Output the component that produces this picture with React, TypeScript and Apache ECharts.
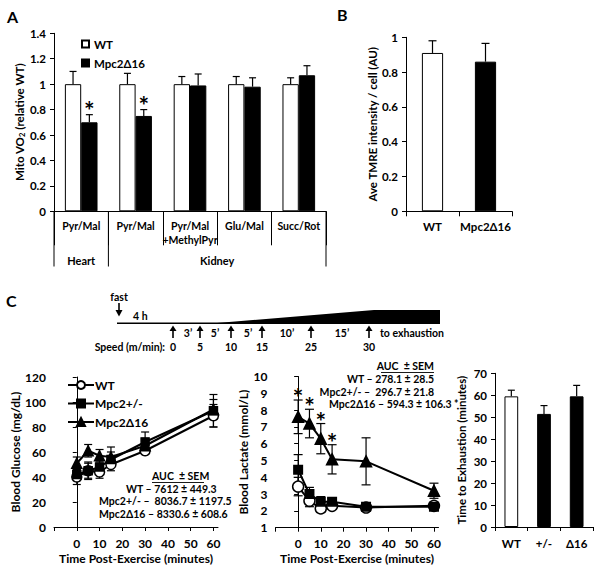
import React, { useEffect, useRef } from 'react';
import * as echarts from 'echarts';

const FONT = 'Lato, "Open Sans", sans-serif';

// ---------- Panel A ----------
const aCategories = ['Pyr/Mal', 'Pyr/Mal', 'Pyr/Mal\n+MethylPyr', 'Glu/Mal', 'Succ/Rot'];
const aTissues = ['Heart', 'Kidney'];
const aWT = [1, 1, 1, 1, 1];
const aWTErr = [0.1, 0.085, 0.06, 0.06, 0.05];
const aKO = [0.7, 0.75, 0.99, 0.98, 1.07];
const aKOErr = [0.06, 0.05, 0.09, 0.07, 0.075];
const aKOSig = [true, true, false, false, false];

// ---------- Panel B ----------
const bCategories = ['WT', 'Mpc2Δ16'];
const bValues = [0.91, 0.86];
const bErr = [0.07, 0.105];

// ---------- Panel C: protocol ----------
const speeds = ['0', '5', '10', '15', '25', '30'];
const durations = ['3’', '5’', '5’', '10’', '15’'];

// ---------- Panel C: time courses ----------
const timePoints = [0, 5, 10, 15, 30, 60];
const timeTicks = [-10, 0, 10, 20, 30, 40, 50, 60];
const timeLabels = [0, 10, 20, 30, 40, 50, 60];

const glucoseWT = [40, 45, 44, 50, 61, 89];
const glucoseWTErr = [6, 6, 5, 5, 3, 9];
const glucoseHet = [42, 45, 48, 54, 68, 93];
const glucoseHetErr = [5, 7, 5, 6, 8, 13];
const glucoseKO = [51, 61, 57, 56, 65, 94];
const glucoseKOErr = [5, 5, 5, 8, 6, 8];
const glucoseAUC = ['AUC  ± SEM', 'WT – 7612 ± 449.3', 'Mpc2+/- –  8036.7 ± 1197.5', 'Mpc2Δ16 – 8330.6 ± 608.6'];

const lactateWT = [3.45, 2.6, 2.15, 2.3, 2.2, 2.3];
const lactateWTErr = [0.55, 0.35, 0.2, 0.2, 0.1, 0.1];
const lactateHet = [4.45, 3.0, 2.55, 2.55, 2.25, 2.25];
const lactateHetErr = [0.9, 0.4, 0.3, 0.2, 0.15, 0.15];
const lactateKO = [7.6, 7.2, 6.3, 5.07, 4.95, 3.2];
const lactateKOErr = [1.0, 0.85, 0.9, 0.87, 1.4, 0.45];
const lactateKOSig = [true, true, true, true, false, false];
const lactateAUC = ['AUC  ± SEM', 'WT – 278.1 ± 28.5', 'Mpc2+/- –  296.7 ± 21.8', 'Mpc2Δ16 – 594.3 ± 106.3 *'];

// ---------- Panel C: exhaustion ----------
const exCategories = ['WT', '+/-', 'Δ16'];
const exValues = [59.5, 51.5, 59.5];
const exErr = [2.8, 3.8, 5];

// ---------- layout ----------
const A_LEFT = 54;
const A_TOP = 33.3;
const A_W = 272;
const A_H = 178;

const bold = (size: number) => ({ fontFamily: FONT, fontWeight: 'bold' as const, fontSize: size, color: '#000' });
const axisLine = { show: true, lineStyle: { color: '#000', width: 1 } };
const tick = (len = 4) => ({ show: true, length: len, lineStyle: { color: '#000', width: 1 } });
const starStyle = { text: '*', fontFamily: FONT, fontWeight: 'bold', fontSize: 25, fill: '#000', align: 'center', verticalAlign: 'middle' };

function barErr(xi: number, yi: number, vals: number[], errs: number[], offset: number, sig: boolean[] | null, cap: number, starGap: number) {
  return {
    type: 'custom',
    xAxisIndex: xi,
    yAxisIndex: yi,
    z: 5,
    silent: true,
    data: vals.map((v, i) => [i, v, errs[i], sig && sig[i] ? 1 : 0]),
    renderItem: (_p: any, api: any) => {
      const i = api.value(0);
      const v = api.value(1);
      const e = api.value(2);
      const s = api.value(3);
      const bw = api.size([1, 0])[0];
      const p0 = api.coord([i, v]);
      const p1 = api.coord([i, v + e]);
      const x = p0[0] + offset * bw;
      const children: any[] = [
        { type: 'line', shape: { x1: x, y1: p0[1], x2: x, y2: p1[1] }, style: { stroke: '#000', lineWidth: 1.2 } },
        { type: 'line', shape: { x1: x - cap, y1: p1[1], x2: x + cap, y2: p1[1] }, style: { stroke: '#000', lineWidth: 1.2 } },
      ];
      if (s) {
        children.push({ type: 'text', x, y: p1[1] - starGap, style: starStyle });
      }
      return { type: 'group', children };
    },
  };
}

function lineErr(xi: number, yi: number, xs: number[], vals: number[], errs: number[], sig: boolean[] | null, cap: number, starGap: number) {
  return {
    type: 'custom',
    xAxisIndex: xi,
    yAxisIndex: yi,
    z: 1,
    silent: true,
    data: xs.map((t, i) => [t, vals[i], errs[i], sig && sig[i] ? 1 : 0]),
    renderItem: (_p: any, api: any) => {
      const t = api.value(0);
      const v = api.value(1);
      const e = api.value(2);
      const s = api.value(3);
      const hi = api.coord([t, v + e]);
      const lo = api.coord([t, v - e]);
      const x = hi[0];
      const children: any[] = [
        { type: 'line', shape: { x1: x, y1: lo[1], x2: x, y2: hi[1] }, style: { stroke: '#000', lineWidth: 1.2 } },
        { type: 'line', shape: { x1: x - cap, y1: hi[1], x2: x + cap, y2: hi[1] }, style: { stroke: '#000', lineWidth: 1.2 } },
        { type: 'line', shape: { x1: x - cap, y1: lo[1], x2: x + cap, y2: lo[1] }, style: { stroke: '#000', lineWidth: 1.2 } },
      ];
      if (s) {
        children.push({ type: 'text', x, y: hi[1] - starGap, style: starStyle });
      }
      return { type: 'group', children };
    },
  };
}

function lineSeries(name: string, xi: number, vals: number[], symbol: string, size: number, fill: string) {
  return {
    type: 'line',
    name,
    xAxisIndex: xi,
    yAxisIndex: xi,
    z: 4,
    data: timePoints.map((t, i) => [t, vals[i]]),
    symbol,
    symbolSize: size,
    showAllSymbol: true,
    lineStyle: { color: '#000', width: 2 },
    itemStyle: { color: fill, borderColor: '#000', borderWidth: 1.5 },
  };
}

function T(str: string, x: number, y: number, size: number, align = 'left', extra: any = {}) {
  return {
    type: 'text',
    x,
    y,
    silent: true,
    style: { text: str, fontFamily: FONT, fontWeight: 'bold', fontSize: size, fill: '#000', align, verticalAlign: 'middle', ...extra },
  };
}

function upArrow(x: number, yTop: number, yBot: number) {
  return [
    { type: 'line', silent: true, shape: { x1: x, y1: yBot, x2: x, y2: yTop + 4 }, style: { stroke: '#000', lineWidth: 1.6 } },
    { type: 'polygon', silent: true, shape: { points: [[x - 3.5, yTop + 5.5], [x + 3.5, yTop + 5.5], [x, yTop]] }, style: { fill: '#000' } },
  ];
}

function buildGraphics() {
  const g: any[] = [];
  g.push(T('A', 7, 16.5, 16));
  g.push(T('B', 337, 14.5, 16));
  g.push(T('C', 6, 300, 16));

  // Panel A tier separators & tissue labels
  const step = A_W / aCategories.length;
  const axisY = A_TOP + A_H;
  [0, 1, aCategories.length].forEach((k) => {
    const x = A_LEFT + k * step;
    g.push({ type: 'line', silent: true, shape: { x1: x, y1: axisY, x2: x, y2: 266.5 }, style: { stroke: '#000', lineWidth: 1 } });
  });
  g.push(T(aTissues[0], A_LEFT + step * 0.5, 260, 11, 'center'));
  g.push(T(aTissues[1], A_LEFT + step * 3, 260, 11, 'center'));

  // protocol timeline
  g.push(T('fast', 119, 297, 10.5, 'center'));
  g.push({ type: 'line', silent: true, shape: { x1: 119, y1: 303, x2: 119, y2: 311 }, style: { stroke: '#000', lineWidth: 1.6 } });
  g.push({ type: 'polygon', silent: true, shape: { points: [[115.5, 310], [122.5, 310], [119, 316.5]] }, style: { fill: '#000' } });
  g.push(T('4 h', 133, 316, 10.5));
  g.push({ type: 'line', silent: true, shape: { x1: 117, y1: 323.3, x2: 374, y2: 323.3 }, style: { stroke: '#000', lineWidth: 1.5 } });
  g.push({ type: 'polygon', silent: true, shape: { points: [[205, 324], [374, 310], [374, 324]] }, style: { fill: '#000' } });
  g.push({ type: 'rect', silent: true, shape: { x: 374, y: 310, width: 66, height: 14 }, style: { fill: '#000' } });
  const arrowX = [173, 200, 231, 262, 311, 369];
  arrowX.forEach((x) => g.push(...upArrow(x, 325.5, 338)));
  const durX = [188, 215, 248, 287, 342];
  durations.forEach((d, i) => g.push(T(d, durX[i], 333, 10.5, 'center')));
  g.push(T('to exhaustion', 380, 333, 10.5));
  g.push(T('Speed (m/min):', 165, 347, 10.5, 'right'));
  speeds.forEach((s, i) => g.push(T(s, arrowX[i], 347, 10.5, 'center')));

  // AUC annotations
  const gX = [152, 126, 99, 99];
  const gY = [476, 488.5, 501, 513.5];
  glucoseAUC.forEach((s, i) => g.push(T(s, gX[i], gY[i], 10.5)));
  g.push({ type: 'line', silent: true, shape: { x1: 152, y1: 482.5, x2: 204, y2: 482.5 }, style: { stroke: '#000', lineWidth: 0.9 } });

  const lY = [366, 379, 391.7, 404.3];
  lactateAUC.forEach((s, i) => g.push(T(s, i === 3 ? 329 : 434, lY[i], 10.5, i === 3 ? 'left' : 'right')));
  g.push({ type: 'line', silent: true, shape: { x1: 381, y1: 372.5, x2: 434, y2: 372.5 }, style: { stroke: '#000', lineWidth: 0.9 } });
  return g;
}

function buildOption() {
  const yName = (gap: number) => ({ nameLocation: 'middle', nameGap: gap, nameTextStyle: bold(11.5) });
  return {
    animation: false,
    backgroundColor: '#fff',
    textStyle: { fontFamily: FONT },
    grid: [
      { left: A_LEFT, top: A_TOP, width: A_W, height: A_H, outerBoundsMode: 'none' },
      { left: 406, top: 37.3, width: 106, height: 174, outerBoundsMode: 'none' },
      { left: 54, top: 377, width: 164, height: 150, outerBoundsMode: 'none' },
      { left: 275.5, top: 376.5, width: 163, height: 151.2, outerBoundsMode: 'none' },
      { left: 495, top: 373.3, width: 98, height: 153.7, outerBoundsMode: 'none' },
    ],
    legend: [
      {
        left: 76,
        top: 33,
        orient: 'vertical',
        icon: 'rect',
        itemWidth: 7,
        itemHeight: 7,
        itemGap: 7,
        selectedMode: false,
        data: ['A|WT', 'A|Mpc2Δ16'],
        formatter: (n: string) => n.split('|')[1],
        textStyle: { ...bold(11.5), padding: [0, 0, 0, 0] },
      },
      {
        left: 62,
        top: 374,
        orient: 'vertical',
        itemWidth: 26,
        itemHeight: 10,
        itemGap: 6.5,
        selectedMode: false,
        data: ['G|WT', 'G|Mpc2+/-', 'G|Mpc2Δ16'],
        formatter: (n: string) => n.split('|')[1],
        textStyle: { ...bold(12), padding: [0, 0, 0, -4] },
      },
    ],
    xAxis: [
      {
        gridIndex: 0,
        type: 'category',
        data: aCategories,
        axisLine,
        axisTick: tick(34),
        axisLabel: { ...bold(10.5), interval: 0, margin: 8, lineHeight: 14 },
      },
      {
        gridIndex: 1,
        type: 'category',
        data: bCategories,
        axisLine,
        axisTick: tick(5),
        axisLabel: { ...bold(11.5), interval: 0, margin: 9 },
      },
      {
        gridIndex: 2,
        type: 'value',
        min: -10,
        max: 62,
        interval: 10,
        axisLine,
        axisTick: { ...tick(4), customValues: timeTicks },
        axisLabel: { ...bold(12), margin: 10, customValues: timeLabels },
        splitLine: { show: false },
        name: 'Time Post-Exercise (minutes)',
        nameLocation: 'middle',
        nameGap: 25,
        nameTextStyle: bold(12),
      },
      {
        gridIndex: 3,
        type: 'value',
        min: -10,
        max: 62,
        interval: 10,
        axisLine,
        axisTick: { ...tick(4), customValues: timeTicks },
        axisLabel: { ...bold(12), margin: 10, customValues: timeLabels },
        splitLine: { show: false },
        name: 'Time Post-Exercise (minutes)',
        nameLocation: 'middle',
        nameGap: 25,
        nameTextStyle: bold(12),
      },
      {
        gridIndex: 4,
        type: 'category',
        data: exCategories,
        axisLine,
        axisTick: tick(4),
        axisLabel: { ...bold(11.5), interval: 0, margin: 10 },
      },
    ],
    yAxis: [
      {
        gridIndex: 0,
        type: 'value',
        min: 0,
        max: 1.4,
        interval: 0.2,
        axisLine,
        axisTick: tick(4),
        splitLine: { show: false },
        axisLabel: { ...bold(11.5), margin: 8 },
        name: '{t|Mito VO}{s|2}{t| (relative WT)}',
        nameLocation: 'middle',
        nameGap: 25,
        nameTextStyle: {
          rich: {
            t: { ...bold(11.5), lineHeight: 14 },
            s: { ...bold(7.5), lineHeight: 7, verticalAlign: 'bottom' },
          },
        },
      },
      {
        gridIndex: 1,
        type: 'value',
        min: 0,
        max: 1,
        interval: 0.2,
        axisLine,
        axisTick: tick(4),
        splitLine: { show: false },
        axisLabel: { ...bold(11.5), margin: 8 },
        name: 'Ave TMRE intensity / cell (AU)',
        ...yName(24),
        nameTextStyle: bold(11.5),
      },
      {
        gridIndex: 2,
        type: 'value',
        min: 0,
        max: 120,
        interval: 20,
        axisLine,
        axisTick: tick(4),
        splitLine: { show: false },
        axisLabel: { ...bold(12), margin: 8 },
        name: 'Blood Glucose (mg/dL)',
        ...yName(31),
        nameTextStyle: bold(12),
      },
      {
        gridIndex: 3,
        type: 'value',
        min: 1,
        max: 10,
        interval: 1,
        axisLine,
        axisTick: tick(4),
        splitLine: { show: false },
        axisLabel: { ...bold(12), margin: 8 },
        name: 'Blood Lactate (mmol/L)',
        ...yName(24),
        nameTextStyle: bold(12),
      },
      {
        gridIndex: 4,
        type: 'value',
        min: 0,
        max: 70,
        interval: 10,
        axisLine,
        axisTick: tick(4),
        splitLine: { show: false },
        axisLabel: { ...bold(11.5), margin: 8 },
        name: 'Time to Exhaustion (minutes)',
        ...yName(28),
        nameTextStyle: bold(11.5),
      },
    ],
    series: [
      // Panel A
      {
        type: 'bar',
        name: 'A|WT',
        xAxisIndex: 0,
        yAxisIndex: 0,
        data: aWT,
        barWidth: '30%',
        barGap: '0%',
        itemStyle: { color: '#fff', borderColor: '#000', borderWidth: 1 },
      },
      {
        type: 'bar',
        name: 'A|Mpc2Δ16',
        xAxisIndex: 0,
        yAxisIndex: 0,
        data: aKO,
        barWidth: '30%',
        barGap: '0%',
        itemStyle: { color: '#000', borderColor: '#000', borderWidth: 1 },
      },
      barErr(0, 0, aWT, aWTErr, -0.15, null, 3.5, 5),
      barErr(0, 0, aKO, aKOErr, 0.15, aKOSig, 3.5, 5),
      // Panel B
      {
        type: 'bar',
        name: 'B',
        xAxisIndex: 1,
        yAxisIndex: 1,
        barWidth: '40%',
        data: bValues.map((v, i) => ({ value: v, itemStyle: { color: i === 0 ? '#fff' : '#000' } })),
        itemStyle: { borderColor: '#000', borderWidth: 1 },
      },
      barErr(1, 1, bValues, bErr, 0, null, 4, 8),
      // Glucose
      lineErr(2, 2, timePoints, glucoseWT, glucoseWTErr, null, 4, 8),
      lineErr(2, 2, timePoints, glucoseHet, glucoseHetErr, null, 4, 8),
      lineErr(2, 2, timePoints, glucoseKO, glucoseKOErr, null, 4, 8),
      lineSeries('G|WT', 2, glucoseWT, 'circle', 10, '#fff'),
      lineSeries('G|Mpc2+/-', 2, glucoseHet, 'rect', 8, '#000'),
      lineSeries('G|Mpc2Δ16', 2, glucoseKO, 'triangle', 10, '#000'),
      // Lactate
      lineErr(3, 3, timePoints, lactateWT, lactateWTErr, null, 4.5, 8),
      lineErr(3, 3, timePoints, lactateHet, lactateHetErr, null, 4.5, 8),
      lineErr(3, 3, timePoints, lactateKO, lactateKOErr, lactateKOSig, 4.5, 3),
      lineSeries('L|WT', 3, lactateWT, 'circle', 11, '#fff'),
      lineSeries('L|Mpc2+/-', 3, lactateHet, 'rect', 8.5, '#000'),
      lineSeries('L|Mpc2Δ16', 3, lactateKO, 'triangle', 11, '#000'),
      // Exhaustion
      {
        type: 'bar',
        name: 'E',
        xAxisIndex: 4,
        yAxisIndex: 4,
        barWidth: '42%',
        data: exValues.map((v, i) => ({ value: v, itemStyle: { color: i === 0 ? '#fff' : '#000' } })),
        itemStyle: { borderColor: '#000', borderWidth: 1 },
      },
      barErr(4, 4, exValues, exErr, 0, null, 3.5, 8),
    ],
    graphic: buildGraphics(),
  };
}

export default function App() {
  const ref = useRef<HTMLDivElement>(null);
  useEffect(() => {
    const chart = echarts.init(ref.current as HTMLDivElement, null, { renderer: 'svg' });
    chart.setOption(buildOption() as any);
    return () => chart.dispose();
  }, []);
  return (
    <div
      ref={ref}
      style={{ position: 'absolute', left: 0, top: 0, width: 600, height: 571, background: '#fff' }}
    />
  );
}
